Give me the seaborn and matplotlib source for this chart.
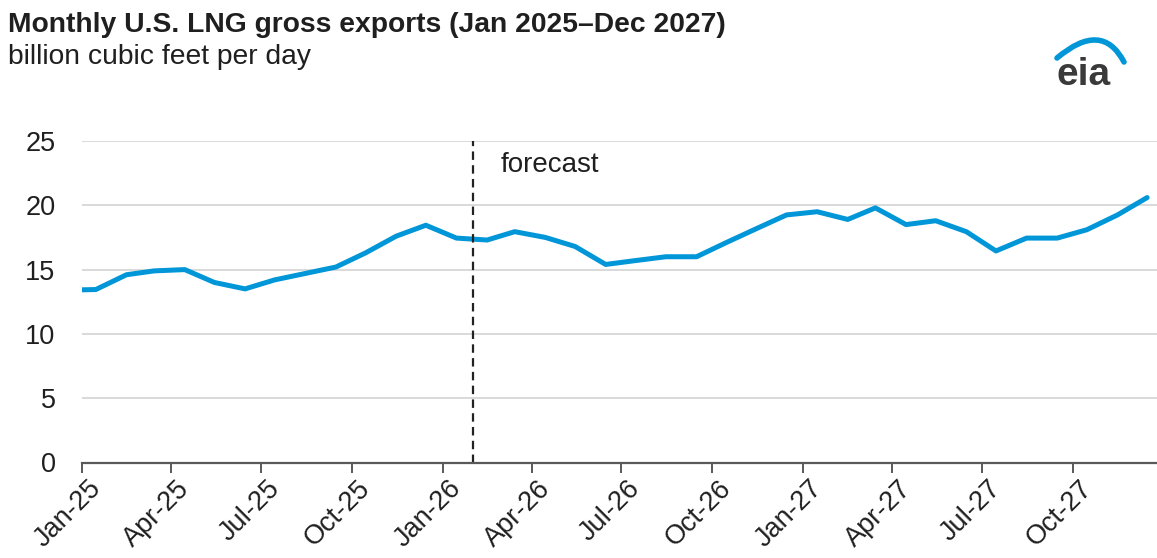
import numpy as np
import pandas as pd
import matplotlib
matplotlib.use("Agg")
import matplotlib.pyplot as plt
import matplotlib.transforms as mtransforms
from matplotlib.path import Path
from matplotlib.patches import PathPatch
import seaborn as sns

# ---------------- data ----------------
month_starts = pd.date_range("2024-12-01", "2027-12-01", freq="MS")
exports_bcfd = [13.4,
                13.45, 14.6, 14.9, 15.0, 14.0, 13.5, 14.2, 14.7, 15.2, 16.3, 17.6, 18.45,
                17.45, 17.3, 17.95, 17.5, 16.8, 15.4, 15.7, 16.0, 16.0, 17.1, 18.2, 19.25,
                19.5, 18.9, 19.8, 18.5, 18.8, 17.95, 16.45, 17.45, 17.45, 18.1, 19.25, 20.6]
forecast_start = pd.Timestamp("2026-02-01")
tick_dates = pd.date_range("2025-01-01", "2027-10-01", freq="3MS")
tick_labels = [d.strftime("%b-%y") for d in tick_dates]
y_ticks = [0, 5, 10, 15, 20, 25]
title = "Monthly U.S. LNG gross exports (Jan 2025\u2013Dec 2027)"
subtitle = "billion cubic feet per day"
forecast_label = "forecast"

df = pd.DataFrame({"date": month_starts + pd.Timedelta(days=14),
                   "value": exports_bcfd})

# ---------------- style ----------------
sns.set_theme(style="white")
plt.rcParams["font.family"] = ["Liberation Sans", "DejaVu Sans"]
TXT = "#1f1f1f"
AXC = "#595959"
BLUE = "#0096d7"

W, H = 1157, 558
fig = plt.figure(figsize=(W / 100, H / 100), dpi=100)
ax = fig.add_axes([82 / W, 1 - 462.5 / H, (W - 82) / W, (462.5 - 141) / H])

sns.lineplot(data=df, x="date", y="value", ax=ax, color=BLUE, linewidth=3.6,
             solid_capstyle="round", solid_joinstyle="round")

ax.set_xlim(pd.Timestamp("2025-01-01"), pd.Timestamp("2027-12-25"))
ax.set_ylim(0, 25)
ax.set_yticks(y_ticks)
ax.set_yticklabels([str(v) for v in y_ticks])
ax.set_xlabel("")
ax.set_ylabel("")

ax.grid(axis="y", color="#d9d9d9", linewidth=1.4)
ax.grid(axis="x", visible=False)
ax.set_axisbelow(True)
for s in ["left", "top", "right"]:
    ax.spines[s].set_visible(False)
ax.spines["bottom"].set_color(AXC)
ax.spines["bottom"].set_linewidth(1.6)
ax.spines["bottom"].set_zorder(3)

ax.set_xticks(tick_dates)
ax.set_xticklabels(tick_labels, rotation=45, ha="right", va="center",
                   rotation_mode="anchor", fontsize=19.5, color=TXT)
ax.tick_params(axis="x", length=7, width=1.4, color=AXC, pad=9, direction="out",
               bottom=True)
ax.tick_params(axis="y", length=0, pad=19, labelsize=19.5, labelcolor=TXT)

offset = mtransforms.ScaledTranslation(0.15, 0, fig.dpi_scale_trans)
for lab in ax.get_xticklabels():
    lab.set_transform(lab.get_transform() + offset)

# forecast divider
ax.axvline(forecast_start, color="#222222", linewidth=1.6, linestyle=(0, (3.8, 2.4)),
           zorder=2)
ax.annotate(forecast_label, xy=(forecast_start, 23.15), xytext=(19.5, 0),
            textcoords="offset points", va="center", ha="left",
            fontsize=20, color=TXT)

# titles
fig.text(8 / W, 1 - 32 / H, title, fontsize=20.3, fontweight="bold", color=TXT,
         va="baseline", ha="left")
fig.text(8 / W, 1 - 64 / H, subtitle, fontsize=20.3, color=TXT,
         va="baseline", ha="left")

# eia logo
fig.text(1056 / W, 1 - 85 / H, "eia", fontsize=28, fontweight="bold",
         color="#3a3a3a", va="baseline", ha="left")
pts = [(1057, 58), (1102, 20), (1124, 62)]
verts = [(x / W, 1 - y / H) for x, y in pts]
arc = PathPatch(Path(verts, [Path.MOVETO, Path.CURVE3, Path.CURVE3]),
                facecolor="none", edgecolor=BLUE, linewidth=4,
                transform=fig.transFigure, capstyle="round")
fig.patches.append(arc)

fig.savefig("out.png", dpi=100)
